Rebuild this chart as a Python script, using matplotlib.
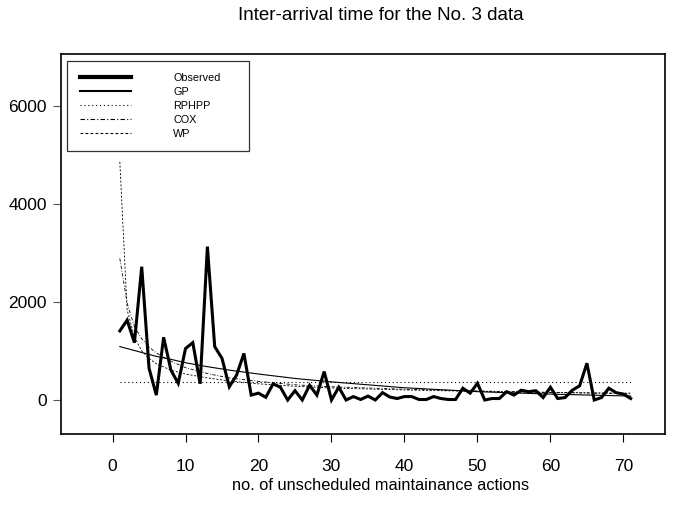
import matplotlib
matplotlib.use('Agg')
import matplotlib.pyplot as plt
from matplotlib.lines import Line2D

plt.rcParams['font.family'] = ['Liberation Sans', 'DejaVu Sans']

# Observed inter-arrival times
actions = list(range(1, 72))
observed = [1410, 1630, 1170, 2720, 650, 100, 1280, 610, 340, 1050,
            1170, 330, 3130, 1090, 850, 270, 510, 950, 100, 140,
            55, 330, 260, 0, 190, 0, 300, 100, 580, 0,
            260, 0, 70, 10, 80, 0, 150, 60, 30, 70,
            70, 10, 10, 70, 30, 10, 10, 240, 140, 340,
            0, 30, 30, 170, 100, 200, 170, 190, 50, 260,
            30, 50, 200, 290, 750, 0, 50, 240, 150, 120,
            30]

# Fitted model curves
model_x = [1, 2, 3, 4, 5, 6, 8, 10, 13, 16, 20, 25, 30, 40, 50, 60, 71]
gp = [1090, 1050, 1010, 970, 930, 890, 830, 760, 680, 610, 530, 440, 370, 250, 170, 120, 80]
cox = [2890, 1980, 1500, 1250, 1080, 960, 790, 660, 540, 450, 380, 310, 270, 220, 185, 155, 125]
wp = [4860, 1840, 1290, 1000, 850, 740, 610, 530, 450, 390, 330, 280, 245, 205, 175, 155, 140]
rphpp_level = 375

# Figure
fig = plt.figure(figsize=(6.77, 5.26), dpi=100)
ax = fig.add_axes([0.0901, 0.1749, 0.8922, 0.7224])

ax.plot(actions, observed, color='black', linewidth=2.2, solid_joinstyle='miter')
ax.plot(model_x, gp, color='black', linewidth=0.8)
ax.hlines(rphpp_level, actions[0], actions[-1], color='black', linewidth=0.8, linestyles=(0, (1, 2.5)))
ax.plot(model_x, cox, color='black', linewidth=0.6, linestyle=(0, (4, 2, 1, 2)))
ax.plot(model_x, wp, color='black', linewidth=0.6, linestyle=(0, (2.5, 2)))

ax.set_xlim(-7.06, 75.7)
ax.set_ylim(-694, 7061)
ax.set_xticks([0, 10, 20, 30, 40, 50, 60, 70])
ax.set_yticks([0, 2000, 4000, 6000])
ax.tick_params(axis='x', length=6, width=0.8, pad=12, labelsize=12.5)
ax.tick_params(axis='y', length=6, width=0.8, pad=4, labelsize=12.5, color='#555555')
for s in ax.spines.values():
    s.set_linewidth(1.2)

# Legend like the R one
handles = [Line2D([], [], color='black', linewidth=3),
           Line2D([], [], color='black', linewidth=1.5),
           Line2D([], [], color='black', linewidth=0.8, linestyle=(0, (1, 2.5))),
           Line2D([], [], color='black', linewidth=0.8, linestyle=(0, (4, 2, 1, 2))),
           Line2D([], [], color='black', linewidth=0.8, linestyle=(0, (2.5, 2)))]
labels = ['Observed', 'GP', 'RPHPP', 'COX', 'WP']
leg = ax.legend(handles, labels, loc='upper left', fontsize=7.8, fancybox=False,
                edgecolor='black', handlelength=4.7, handletextpad=3.9,
                labelspacing=0.36, borderpad=1.15, borderaxespad=0.6,
                bbox_to_anchor=(0.0, 1.0, 0.322, 0.0), mode='expand')
leg.get_frame().set_linewidth(0.9)

fig.text(381 / 677, 1 - 15 / 526, 'Inter-arrival time for the No. 3 data',
         ha='center', va='center', fontsize=13.5)
fig.text(381 / 677, 1 - 485 / 526, 'no. of unscheduled maintainance actions',
         ha='center', va='center', fontsize=11.8)

fig.savefig('out.png', dpi=100)
